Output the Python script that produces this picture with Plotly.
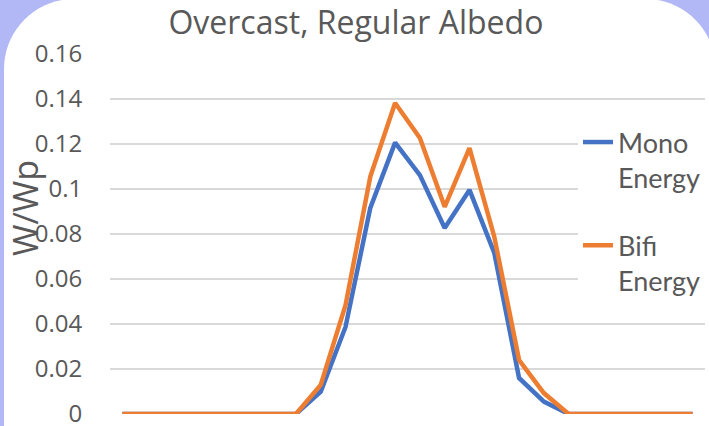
import plotly.graph_objects as go

# ---- data ----
hours = list(range(24))
mono_energy = [0, 0, 0, 0, 0, 0, 0, 0, 0.0099, 0.0387, 0.0916, 0.1206, 0.1062,
               0.0827, 0.0996, 0.0716, 0.016, 0.0055, 0, 0, 0, 0, 0, 0]
bifi_energy = [0, 0, 0, 0, 0, 0, 0, 0, 0.0129, 0.0484, 0.1055, 0.1382, 0.1227,
               0.0921, 0.1182, 0.0788, 0.024, 0.0093, 0, 0, 0, 0, 0, 0]
y_ticks = [0, 0.02, 0.04, 0.06, 0.08, 0.1, 0.12, 0.14, 0.16]
y_tick_labels = ["0", "0.02", "0.04", "0.06", "0.08", "0.1", "0.12", "0.14", "0.16"]
series_names = ["Mono<br>Energy", "Bifi<br>Energy"]

# ---- layout geometry ----
W, H = 709, 426
L, R, T, B = 110, 4, 54, 12
PW, PH = W - L - R, H - T - B
LAV = "rgb(178,184,245)"

def px(x):
    return (x - L) / PW

def py(y):
    return (H - B - y) / PH

# white rounded panel on lavender background
rad, k = 70, 0.5523
lx, rx, ty = 4, 715.6, -1
cy = ty + rad
pts = [
    ("M", [(lx, H + 5)]),
    ("L", [(lx, cy)]),
    ("C", [(lx, cy - k * rad), (lx + rad - k * rad, ty), (lx + rad, ty)]),
    ("L", [(rx - rad, ty)]),
    ("C", [(rx - rad + k * rad, ty), (rx, cy - k * rad), (rx, cy)]),
    ("L", [(rx, H + 5)]),
]
path = ""
for cmd, ps in pts:
    path += cmd + " " + " ".join(f"{px(a):.5f},{py(b):.5f}" for a, b in ps) + " "
path += "Z"

grey = "#595959"
fig = go.Figure()
fig.add_trace(go.Scatter(x=hours, y=mono_energy, mode="lines", name=series_names[0],
                         line=dict(color="#4472c4", width=4.5), legendgroup="a"))
fig.add_trace(go.Scatter(x=hours, y=bifi_energy, mode="lines", name=series_names[1],
                         line=dict(color="#ed7d31", width=4.5), legendgroup="b"))

fig.update_layout(
    width=W, height=H,
    margin=dict(l=L, r=R, t=T, b=B, autoexpand=False),
    paper_bgcolor=LAV,
    plot_bgcolor="rgba(0,0,0,0)",
    shapes=[dict(type="path", xref="paper", yref="paper", path=path,
                 fillcolor="white", line=dict(width=0), layer="below")],
    title=dict(text="Overcast, Regular Albedo", x=0.502, xref="container",
               y=1 - 23 / H, yref="container", xanchor="center", yanchor="middle",
               font=dict(family="Open Sans", size=32, color=grey)),
    xaxis=dict(range=[-0.5, 23.5], showticklabels=False, showgrid=False,
               zeroline=False, showline=False),
    yaxis=dict(range=[0, 0.16], tickvals=y_ticks, ticktext=y_tick_labels,
               showgrid=True, gridcolor="#d9d9d9", gridwidth=1.5, zeroline=False,
               ticks="outside", ticklen=22, tickcolor="rgba(0,0,0,0)",
               ticklabeloverflow="allow",
               tickfont=dict(family="Open Sans", size=24, color=grey)),
    annotations=[dict(text="W/Wp", textangle=-90, xref="paper", yref="paper",
                      x=px(25), y=py(208), xanchor="center", yanchor="middle",
                      showarrow=False,
                      font=dict(family="Open Sans", size=34, color=grey))],
    legend=dict(x=px(578), xanchor="left", y=py(118), yanchor="top",
                bgcolor="white", valign="top", tracegroupgap=30,
                font=dict(family="Lato", size=27, color=grey)),
    showlegend=True,
)

fig.write_html(
    "out.html",
    config={"displayModeBar": False},
    post_script="document.body.style.margin='0';document.body.style.background='"
    + LAV + "';",
)
